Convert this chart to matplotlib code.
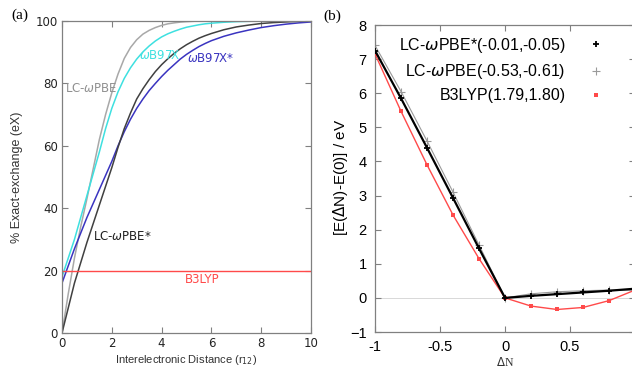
import matplotlib
matplotlib.use('Agg')
import matplotlib.pyplot as plt
from matplotlib.lines import Line2D

# panel (a): fraction of exact exchange vs interelectronic distance
r12 = [0, 0.25, 0.5, 0.75, 1, 1.25, 1.5, 1.75, 2, 2.25, 2.5, 2.75, 3, 3.25, 3.5, 3.75,
       4, 4.25, 4.5, 4.75, 5, 5.25, 5.5, 5.75, 6, 6.5, 7, 7.5, 8, 8.5, 9, 9.5, 10]
lc_wpbe = [0, 12.5, 24, 34, 43, 52.5, 62, 70, 77, 83, 88, 91.5, 94, 95.8, 97, 97.9,
           98.6, 99.1, 99.4, 99.65, 99.8, 99.9, 100, 100, 100, 100, 100, 100, 100, 100, 100, 100, 100]
wb97x = [18, 24, 30, 37, 44, 51, 58, 65.5, 72, 77.3, 81.6, 85, 87.8, 90.1, 92, 93.6,
         94.9, 95.9, 96.7, 97.4, 98, 98.4, 98.8, 99.1, 99.3, 99.6, 99.8, 99.9, 100, 100, 100, 100, 100]
wb97x_star = [16, 21.5, 27, 32, 37, 41.5, 46, 50.5, 55, 60, 64.5, 68.5, 72, 75, 77.7, 80,
              82.2, 84.2, 86, 87.8, 89.3, 90.6, 91.8, 92.8, 93.7, 95.1, 96.2, 97.1, 97.9, 98.5, 99, 99.4, 99.7]
lc_wpbe_star = [0, 8, 16, 22.5, 29, 35, 41, 47, 53, 59.5, 65.5, 70.5, 75, 78.3, 81.2, 83.8,
                86, 87.9, 89.6, 91.1, 92.4, 93.5, 94.5, 95.3, 96, 97.2, 98.1, 98.7, 99.2, 99.5, 99.7, 99.9, 100]
b3lyp_ex = [20] * len(r12)

# panel (b): energy vs fractional charge
dN = [-1, -0.8, -0.6, -0.4, -0.2, 0, 0.2, 0.4, 0.6, 0.8, 1.0]
e_lc_star = [7.25, 5.85, 4.4, 2.93, 1.45, 0.0, 0.06, 0.11, 0.16, 0.21, 0.27]
e_lc = [7.4, 6.05, 4.6, 3.1, 1.55, 0.0, 0.12, 0.18, 0.21, 0.23, 0.22]
e_b3lyp = [7.15, 5.47, 3.9, 2.43, 1.15, 0.0, -0.24, -0.34, -0.28, -0.08, 0.23]

frame = '#808080'
c_gray = '#a8a8a8'
c_cyan = '#3ee0e0'
c_blue = '#3a34c0'
c_black = '#404040'
c_red = '#ff4a4a'

fig = plt.figure(figsize=(6.32, 3.68), dpi=100)

# ---- (a)
ax1 = fig.add_axes([0.0981, 0.0951, 0.394, 0.8478])
ax1.plot(r12, lc_wpbe, color=c_gray, lw=1.1)
ax1.plot(r12, wb97x, color=c_cyan, lw=1.1)
ax1.plot(r12, wb97x_star, color=c_blue, lw=1.1)
ax1.plot(r12, lc_wpbe_star, color=c_black, lw=1.1)
ax1.plot(r12, b3lyp_ex, color=c_red, lw=1.0)
ax1.set_xlim(0, 10)
ax1.set_ylim(0, 100)
ax1.set_xticks([0, 2, 4, 6, 8, 10])
ax1.set_yticks([0, 20, 40, 60, 80, 100])
ax1.tick_params(direction='in', top=True, right=True, length=4, width=0.8, color=frame,
                labelsize=8.5, pad=3, labelcolor='#222222')
for s in ax1.spines.values():
    s.set_color(frame)
    s.set_linewidth(0.9)

lf = dict(fontsize=8.5, va='center', ha='left')
ax1.text(0.12, 78.5, r'LC-$\omega$PBE', color='#909090', **lf)
ax1.text(3.1, 88.8, r'$\omega$B97X', color=c_cyan, **lf)
ax1.text(5.0, 88, r'$\omega$B97X*', color=c_blue, **lf)
ax1.text(1.25, 30.8, r'LC-$\omega$PBE*', color='#202020', **lf)
ax1.text(4.95, 17.3, 'B3LYP', color=c_red, **lf)

fig.text(17 / 632, 1 - 177 / 368, '% Exact-exchange (eX)', rotation=90, ha='center', va='center',
         fontsize=9, family='Liberation Sans', color='#333333')
fig.text(186 / 632, 1 - 360 / 368, r'Interelectronic Distance (r$_{12}$)', ha='center', va='center',
         fontsize=8, family='Liberation Sans', color='#333333')
fig.text(20 / 632, 1 - 15 / 368, '(a)', ha='center', va='center', fontsize=11, family='Liberation Serif')

# ---- (b)
ax2 = fig.add_axes([0.5934, 0.0978, 0.4114, 0.8342])
ax2.axhline(0, color='#d8d8d8', lw=0.7, zorder=1)
ax2.plot(dN, e_lc, color='#9a9a9a', lw=0.8, marker='+', ms=6, mew=0.8, zorder=2)
ax2.plot(dN, e_b3lyp, color=c_red, lw=1.0, marker='s', ms=3, mew=0, zorder=3)
ax2.plot(dN, e_lc_star, color='black', lw=1.6, marker='+', ms=5, mew=1.3, zorder=4)
ax2.set_xlim(-1, 1)
ax2.set_ylim(-1, 8)
ax2.set_xticks([-1, -0.5, 0, 0.5, 1])
ax2.set_xticklabels(['-1', '-0.5', '0', '0.5', ''])
ax2.set_yticks(range(-1, 9))
ax2.tick_params(direction='in', top=True, right=True, length=4, width=0.8, color=frame,
                labelsize=10.5, pad=6)
for lab in ax2.get_xticklabels() + ax2.get_yticklabels():
    lab.set_family('Liberation Sans')
for s in ax2.spines.values():
    s.set_color(frame)
    s.set_linewidth(0.9)

handles = [
    Line2D([], [], ls='none', color='black', marker='+', ms=5, mew=1.3),
    Line2D([], [], ls='none', color='#9a9a9a', marker='+', ms=6, mew=0.8),
    Line2D([], [], ls='none', color=c_red, marker='s', ms=3, mew=0),
]
labels = [r'LC-$\omega$PBE*(-0.01,-0.05)', r'LC-$\omega$PBE(-0.53,-0.61)', 'B3LYP(1.79,1.80)']
ax2.legend(handles, labels, loc='upper right', bbox_to_anchor=(612 / 632, 1 - 28 / 368),
           bbox_transform=fig.transFigure, frameon=False, markerfirst=False,
           handlelength=1.0, handletextpad=1.4, labelspacing=0.45, borderpad=0,
           prop={'family': 'Liberation Sans', 'size': 11.5})

fig.text(341 / 632, 1 - 177 / 368, r'[E($\Delta$N)-E(0)] / eV', rotation=90, ha='center', va='center',
         fontsize=11, family='Liberation Sans')
fig.text(505 / 632, 1 - 362 / 368, r'$\Delta$N', ha='center', va='center', fontsize=8.5,
         family='Liberation Serif', color='#333333')
fig.text(332 / 632, 1 - 16 / 368, '(b)', ha='center', va='center', fontsize=11, family='Liberation Serif')

fig.savefig('out.png', dpi=100)
